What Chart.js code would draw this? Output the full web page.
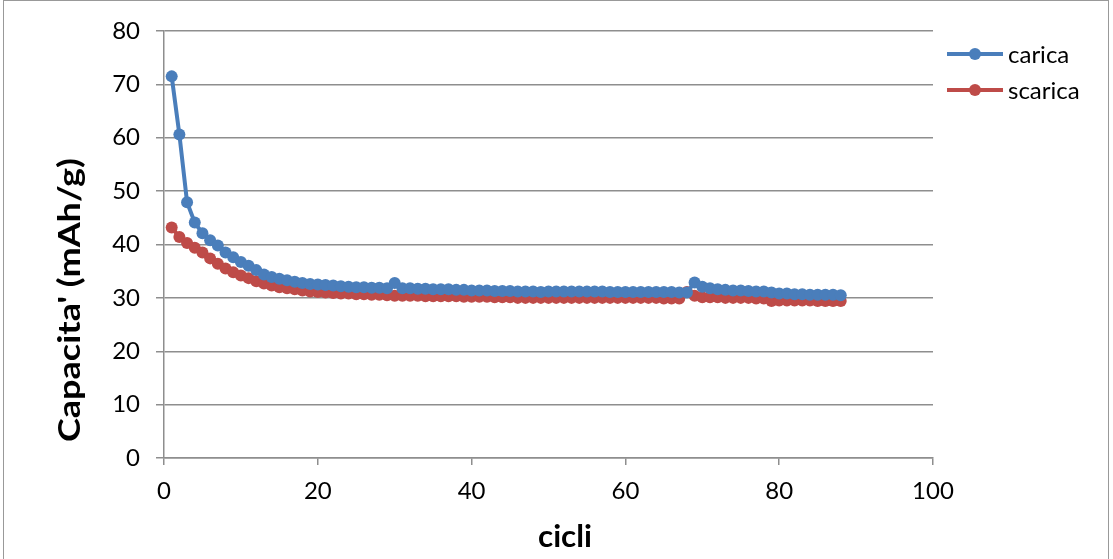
<!DOCTYPE html>
<html>
<head>
<meta charset="utf-8">
<script src="https://cdn.jsdelivr.net/npm/chart.js@4/dist/chart.umd.min.js"></script>
<style>
  html, body { margin: 0; padding: 0; background: #fff; }
  #box { position: relative; width: 1113px; height: 559px; }
  #frame { position: absolute; left: 3px; top: 0; width: 1106px; height: 565px; border: 1px solid #999; box-sizing: border-box; pointer-events: none; }
</style>
</head>
<body>
<div id="box">
  <canvas id="grafico" width="1113" height="559"></canvas>
  <div id="frame"></div>
</div>
<script>
// cicli 1..88
const cicli = [];
for (let i = 1; i <= 88; i++) cicli.push(i);

const carica = [
  71.5, 60.6, 47.9, 44.1, 42.1, 40.8, 39.8, 38.5, 37.6, 36.7,
  36.0, 35.2, 34.4, 33.9, 33.6, 33.3, 33.0, 32.8, 32.6, 32.5,
  32.4, 32.3, 32.2, 32.1, 32.0, 32.0, 31.9, 31.9, 31.8, 32.8,
  31.8, 31.8, 31.7, 31.7, 31.6, 31.6, 31.6, 31.5, 31.5, 31.4,
  31.4, 31.4, 31.3, 31.3, 31.3, 31.2, 31.2, 31.2, 31.1, 31.2,
  31.2, 31.2, 31.2, 31.2, 31.2, 31.2, 31.2, 31.1, 31.1, 31.1,
  31.1, 31.1, 31.1, 31.1, 31.1, 31.1, 31.0, 31.0, 32.9, 32.1,
  31.8, 31.6, 31.5, 31.4, 31.4, 31.3, 31.2, 31.2, 31.0, 30.8,
  30.8, 30.7, 30.7, 30.6, 30.6, 30.6, 30.6, 30.5
];

const scarica = [
  43.2, 41.4, 40.3, 39.4, 38.5, 37.4, 36.4, 35.5, 34.8, 34.2,
  33.7, 33.1, 32.7, 32.3, 32.0, 31.8, 31.6, 31.4, 31.2, 31.1,
  31.0, 30.9, 30.8, 30.8, 30.7, 30.7, 30.6, 30.6, 30.5, 30.4,
  30.4, 30.4, 30.4, 30.3, 30.3, 30.3, 30.3, 30.3, 30.2, 30.2,
  30.2, 30.2, 30.1, 30.1, 30.1, 30.0, 30.0, 30.0, 30.0, 30.0,
  30.0, 30.0, 30.0, 30.0, 30.0, 30.0, 30.0, 30.0, 30.0, 30.0,
  30.0, 30.0, 30.0, 30.0, 29.9, 29.9, 29.9, 31.1, 30.4, 30.1,
  30.1, 30.1, 30.0, 30.0, 30.0, 30.0, 29.9, 29.9, 29.4, 29.5,
  29.5, 29.5, 29.5, 29.5, 29.4, 29.4, 29.4, 29.4
];

const xTicks = [0, 20, 40, 60, 80, 100];
const yTicks = [0, 10, 20, 30, 40, 50, 60, 70, 80];
const titoloX = 'cicli';
const titoloY = "Capacita' (mAh/g)";

const BLU = '#4a7ebb';
const ROSSO = '#be4b48';
const FONT = 'Lato, "Open Sans", sans-serif';
const GRIGIO = '#8e8e8e';

// testo allungato lungo la sua direzione, come nel grafico Excel originale
function testoStirato(ctx, testo, x, y, angolo, font, larghezza) {
  ctx.save();
  ctx.translate(x, y);
  ctx.rotate(angolo);
  ctx.font = font;
  const w = ctx.measureText(testo).width;
  ctx.scale(larghezza / w, 1);
  ctx.fillStyle = '#000';
  ctx.textAlign = 'center';
  ctx.textBaseline = 'alphabetic';
  ctx.fillText(testo, 0, 0);
  ctx.restore();
}

// titoli assi e legenda disegnati a mano (linea + punto come in Excel)
const decorazioni = {
  id: 'decorazioni',
  afterDraw(chart) {
    const ctx = chart.ctx;
    testoStirato(ctx, titoloY, 80, 300, -Math.PI / 2, 'bold 31px ' + FONT, 284);
    testoStirato(ctx, titoloX, 565, 547, 0, 'bold 30px ' + FONT, 54);

    const x0 = 947, y0 = 54, step = 36;
    chart.data.datasets.forEach((ds, i) => {
      const y = y0 + i * step;
      ctx.save();
      ctx.strokeStyle = ds.borderColor;
      ctx.lineWidth = 4;
      ctx.beginPath();
      ctx.moveTo(x0, y);
      ctx.lineTo(x0 + 56, y);
      ctx.stroke();
      ctx.fillStyle = ds.borderColor;
      ctx.beginPath();
      ctx.arc(x0 + 28, y, 6, 0, Math.PI * 2);
      ctx.fill();
      ctx.fillStyle = '#000';
      ctx.font = '24px ' + FONT;
      ctx.textBaseline = 'middle';
      ctx.fillText(ds.label, x0 + 61, y + 1);
      ctx.restore();
    });
  }
};

const ctx = document.getElementById('grafico').getContext('2d');
new Chart(ctx, {
  type: 'line',
  data: {
    labels: cicli,
    datasets: [
      {
        label: 'carica',
        data: cicli.map((c, i) => ({ x: c, y: carica[i] })),
        borderColor: BLU,
        backgroundColor: BLU,
        borderWidth: 4,
        pointRadius: 6,
        pointBorderWidth: 0,
        tension: 0
      },
      {
        label: 'scarica',
        data: cicli.map((c, i) => ({ x: c, y: scarica[i] })),
        borderColor: ROSSO,
        backgroundColor: ROSSO,
        borderWidth: 4,
        pointRadius: 6,
        pointBorderWidth: 0,
        tension: 0
      }
    ]
  },
  plugins: [decorazioni],
  options: {
    responsive: false,
    animation: false,
    layout: { padding: { left: 0, top: 31, right: 180, bottom: 0 } },
    plugins: {
      legend: { display: false },
      tooltip: { enabled: false }
    },
    scales: {
      x: {
        type: 'linear',
        min: 0,
        max: 100,
        afterBuildTicks: axis => { axis.ticks = xTicks.map(v => ({ value: v })); },
        afterFit: axis => { axis.height = 101; },
        grid: { display: true, drawOnChartArea: false, drawTicks: true, tickLength: 7, color: GRIGIO, lineWidth: 1.5 },
        border: { display: true, color: GRIGIO, width: 1.5 },
        ticks: { color: '#000', font: { size: 24, family: FONT }, padding: 12, maxRotation: 0 },
        title: { display: false }
      },
      y: {
        min: 0,
        max: 80,
        afterBuildTicks: axis => { axis.ticks = yTicks.map(v => ({ value: v })); },
        afterFit: axis => { axis.width = 164; },
        grid: { color: GRIGIO, lineWidth: 1.5, tickLength: 8 },
        border: { display: true, color: GRIGIO, width: 1.5 },
        ticks: { color: '#000', font: { size: 24, family: FONT }, padding: 16 },
        title: { display: false }
      }
    }
  }
});
</script>
</body>
</html>
